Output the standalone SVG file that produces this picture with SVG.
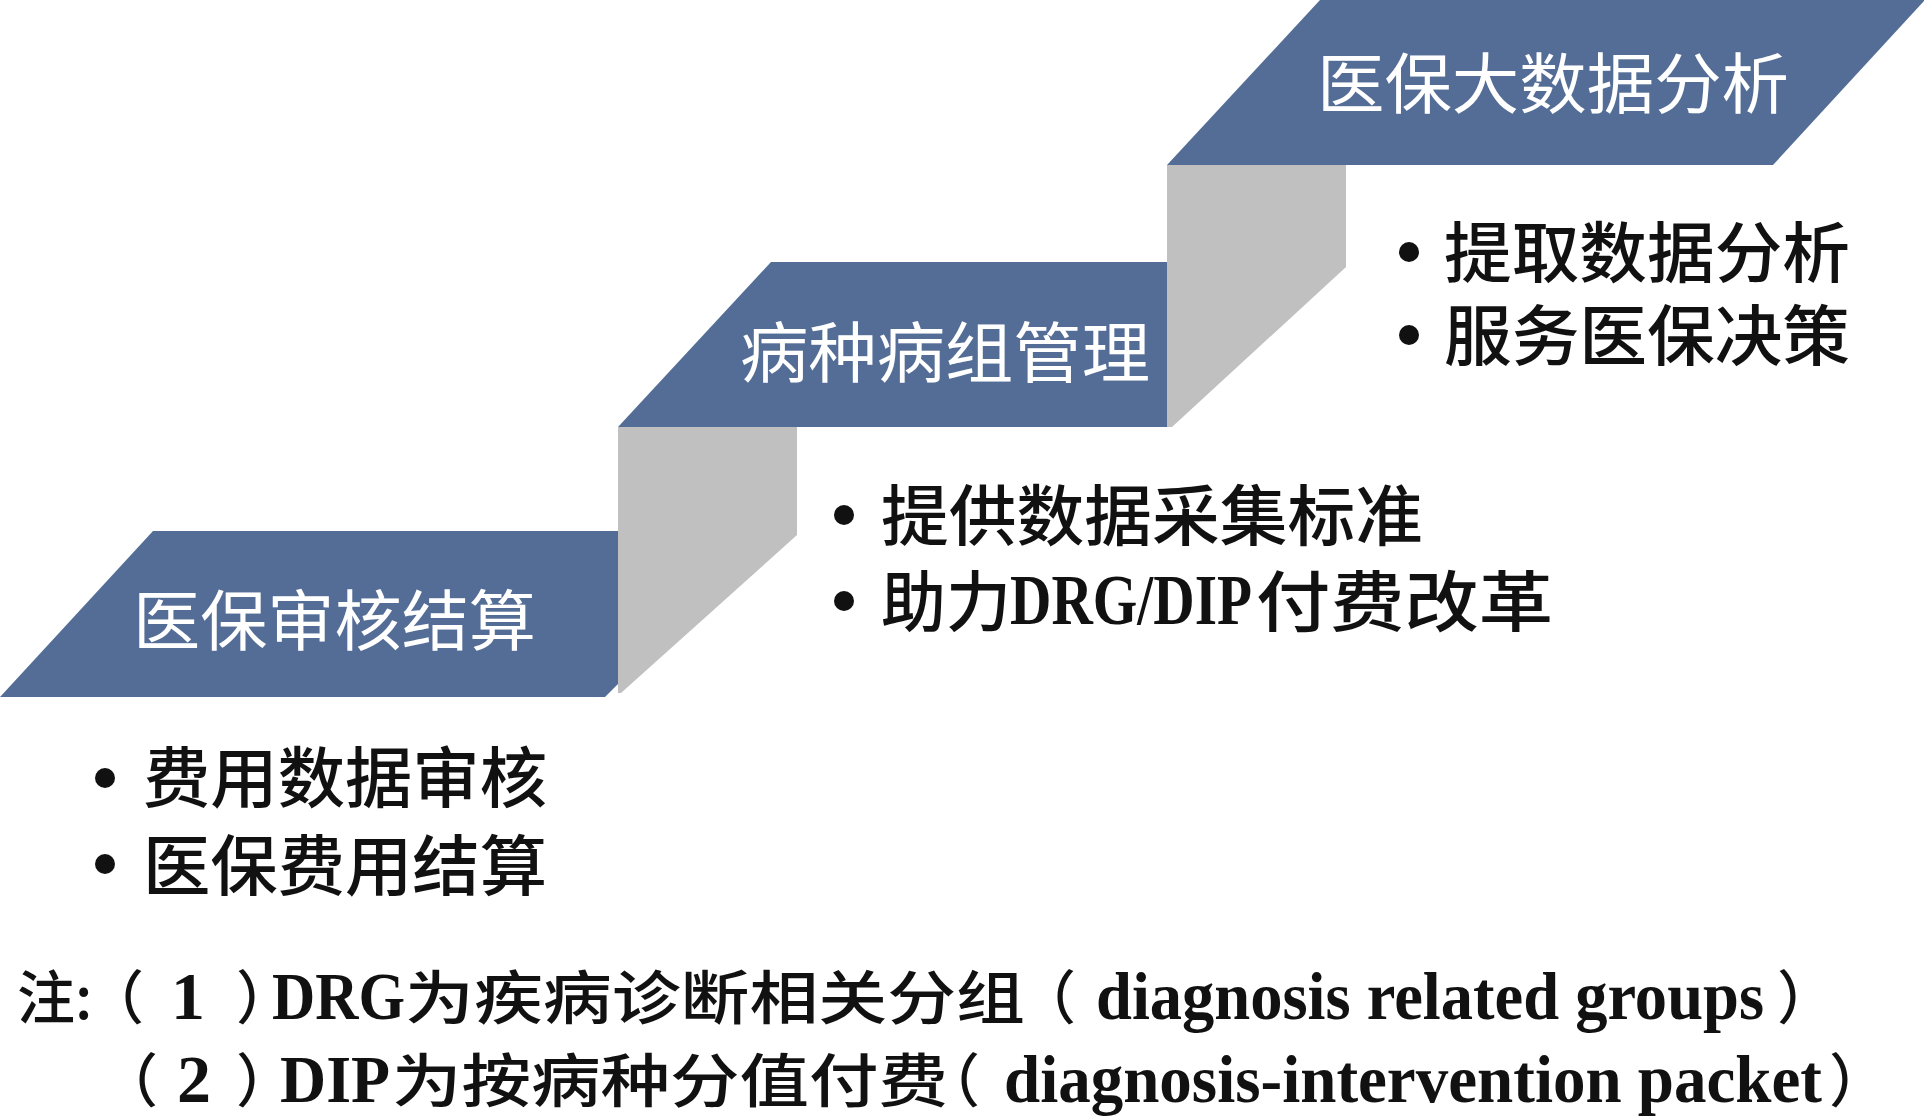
<svg xmlns="http://www.w3.org/2000/svg" width="1924" height="1119" viewBox="0 0 1924 1119">
<style>
.blue{fill:#546d96}
.grey{fill:#c0c0c0}
.lbl{font-family:"Noto Sans CJK SC","Noto Sans",sans-serif;font-size:66px;fill:#ffffff}
.bt{font-family:"Noto Sans CJK SC","Noto Sans",sans-serif;font-size:66px;font-weight:500;fill:#111111}
.bl{font-family:"Liberation Serif","Noto Sans CJK SC",serif;font-size:72px;font-weight:bold;fill:#111111}
.dot{fill:#111111}
.nc{font-family:"Noto Sans CJK SC","Noto Sans",sans-serif;font-size:58px;font-weight:500;fill:#111111}
.nl{font-family:"Liberation Serif","Noto Sans CJK SC",serif;font-size:68px;font-weight:bold;fill:#111111}
</style>
<rect width="1924" height="1119" fill="#ffffff"/>
<g id="step1">
<polygon class="blue" points="153,531 618,531 618,684 605,697 0,697"/>
<text class="lbl" x="133" y="645" textLength="403" lengthAdjust="spacingAndGlyphs">医保审核结算</text>
</g>
<g id="riser1">
<polygon class="grey" points="618,427 797,427 797,535 621,693 618,693"/>
</g>
<g id="step2">
<polygon class="blue" points="771,262 1167,262 1167,427 618,427"/>
<text class="lbl" x="740" y="377" textLength="410" lengthAdjust="spacingAndGlyphs">病种病组管理</text>
</g>
<g id="riser2">
<polygon class="grey" points="1167,165 1346,165 1346,267 1172,427 1167,427"/>
</g>
<g id="step3">
<polygon class="blue" points="1320,0 1925,0 1773,165 1167,165"/>
<text class="lbl" x="1317" y="108" textLength="472" lengthAdjust="spacingAndGlyphs">医保大数据分析</text>
</g>
<g id="connectors"></g>
<g id="bullets1">
<circle class="dot" cx="105" cy="778" r="10"/>
<text class="bt" x="143" y="802" textLength="404" lengthAdjust="spacingAndGlyphs">费用数据审核</text>
<circle class="dot" cx="105" cy="864" r="10"/>
<text class="bt" x="143" y="890" textLength="404" lengthAdjust="spacingAndGlyphs">医保费用结算</text>
</g>
<g id="bullets2">
<circle class="dot" cx="844" cy="515" r="10"/>
<text class="bt" x="881" y="540" textLength="542" lengthAdjust="spacingAndGlyphs">提供数据采集标准</text>
<circle class="dot" cx="844" cy="601" r="10"/>
<text class="bt" x="881" y="626" textLength="130" lengthAdjust="spacingAndGlyphs">助力</text>
<text class="bl" x="1010" y="624" textLength="242" lengthAdjust="spacingAndGlyphs">DRG/DIP</text>
<text class="bt" x="1256" y="626" textLength="297" lengthAdjust="spacingAndGlyphs">付费改革</text>
</g>
<g id="bullets3">
<circle class="dot" cx="1409" cy="252" r="10"/>
<text class="bt" x="1444" y="277" textLength="406" lengthAdjust="spacingAndGlyphs">提取数据分析</text>
<circle class="dot" cx="1409" cy="335" r="10"/>
<text class="bt" x="1444" y="360" textLength="406" lengthAdjust="spacingAndGlyphs">服务医保决策</text>
</g>
<g id="note1">
<text class="nc" x="17" y="1019">注:</text>
<text y="1019"><tspan class="nc" x="86">（</tspan><tspan class="nl" x="171">1</tspan><tspan class="nc" x="236">）</tspan></text>
<text class="nl" x="272" y="1019" textLength="133" lengthAdjust="spacingAndGlyphs">DRG</text>
<text class="nc" x="405" y="1019" textLength="620" lengthAdjust="spacingAndGlyphs">为疾病诊断相关分组</text>
<text class="nc" x="1018" y="1019">（</text>
<text class="nl" x="1096" y="1019" textLength="668" lengthAdjust="spacingAndGlyphs">diagnosis related groups</text>
<text class="nc" x="1777" y="1019">）</text>
</g>
<g id="note2">
<text y="1102"><tspan class="nc" x="100">（</tspan><tspan class="nl" x="177">2</tspan><tspan class="nc" x="236">）</tspan></text>
<text class="nl" x="280" y="1102" textLength="110" lengthAdjust="spacingAndGlyphs">DIP</text>
<text class="nc" x="392" y="1102" textLength="556" lengthAdjust="spacingAndGlyphs">为按病种分值付费</text>
<text class="nc" x="922" y="1102">（</text>
<text class="nl" x="1004" y="1102" textLength="818" lengthAdjust="spacingAndGlyphs">diagnosis-intervention packet</text>
<text class="nc" x="1829" y="1102">）</text>
</g>
</svg>
